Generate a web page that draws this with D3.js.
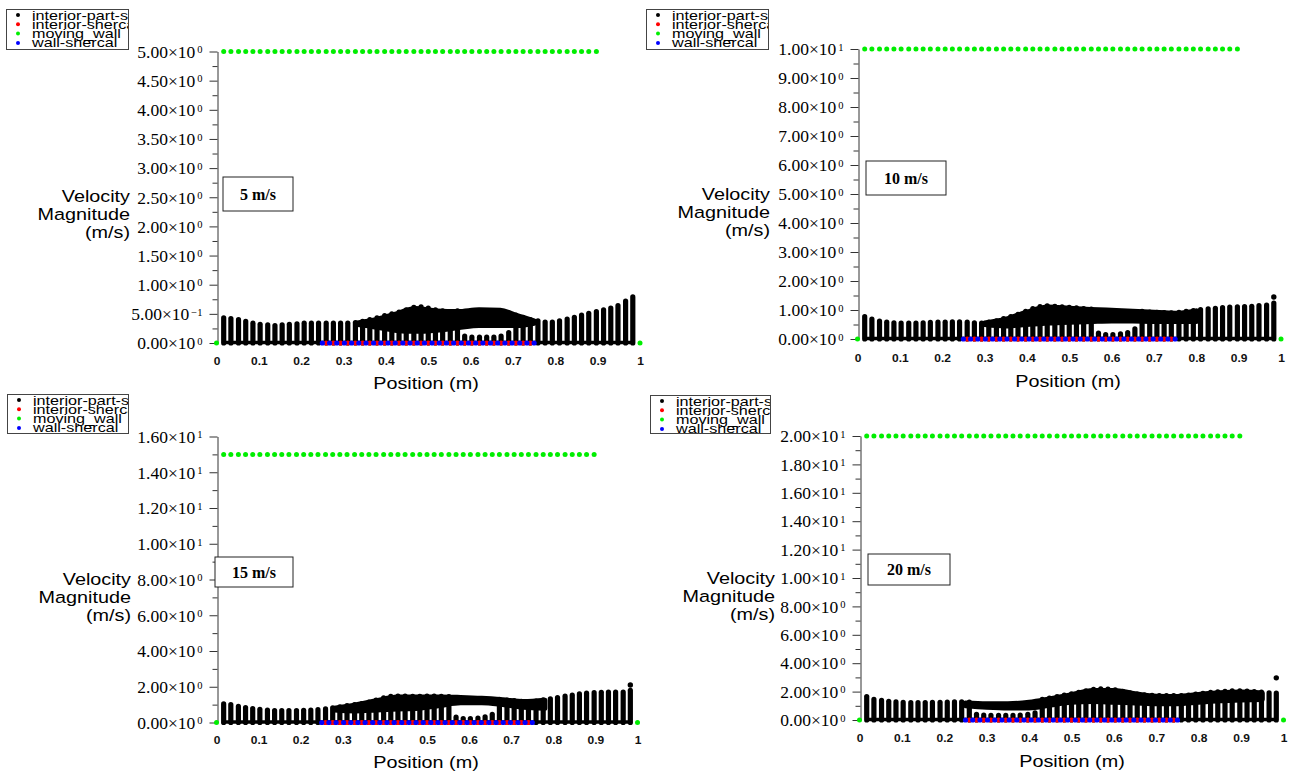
<!DOCTYPE html>
<html>
<head>
<meta charset="utf-8">
<script src="https://cdn.jsdelivr.net/npm/d3@7"></script>
<style>
  body { margin: 0; background: #ffffff; }
  svg { display: block; }
</style>
</head>
<body>
<svg id="chart" width="1295" height="775"></svg>
<script>
// ---- data -------------------------------------------------------------
// mesh node positions along the line (m)
const nodeX = [0.017,0.034,0.052,0.069,0.086,0.103,0.121,0.138,0.155,0.172,0.190,0.207,0.224,0.241,0.259,0.276,0.293,0.310,0.328,0.345,0.362,0.379,0.397,0.414,0.431,0.448,0.466,0.483,0.500,0.517,0.534,0.552,0.569,0.586,0.603,0.621,0.638,0.655,0.672,0.690,0.707,0.724,0.741,0.759,0.776,0.793,0.810,0.828,0.845,0.862,0.879,0.897,0.914,0.931,0.948,0.966,0.983];

// wall-shercal face centres (m)
const wallShercalX = [0.250,0.267,0.284,0.302,0.319,0.336,0.353,0.371,0.388,0.405,0.422,0.440,0.457,0.474,0.491,0.509,0.526,0.543,0.560,0.578,0.595,0.612,0.629,0.647,0.664,0.681,0.698,0.716,0.733,0.750];
// interior-shercal nodes (m)
const interiorShercalX = [0.259,0.276,0.293,0.310,0.328,0.345,0.362,0.379,0.397,0.414,0.431,0.448,0.466,0.483,0.500,0.517,0.534,0.552,0.569,0.586,0.603,0.621,0.638,0.655,0.672,0.690,0.707,0.724,0.741];
// moving_wall nodes (m)
const movingWallX = [0.017,0.034,0.052,0.069,0.086,0.103,0.121,0.138,0.155,0.172,0.190,0.207,0.224,0.241,0.259,0.276,0.293,0.310,0.328,0.345,0.362,0.379,0.397,0.414,0.431,0.448,0.466,0.483,0.500,0.517,0.534,0.552,0.569,0.586,0.603,0.621,0.638,0.655,0.672,0.690,0.707,0.724,0.741,0.759,0.776,0.793,0.810,0.828,0.845,0.862,0.879,0.897];
// moving_wall end nodes at rest
const movingWallEndsX = [0, 1];

const seriesNames = ["interior-part-shercal", "interior-shercal", "moving_wall", "wall-shercal"];
const seriesColors = ["#000000", "#ff0000", "#00ee00", "#0000ff"];

const caseLabels = ["5 m/s", "10 m/s", "15 m/s", "20 m/s"];
const wallSpeed = [5, 10, 15, 20];

const xTicks = [0, 0.1, 0.2, 0.3, 0.4, 0.5, 0.6, 0.7, 0.8, 0.9, 1];
const xTickLabels = ["0", "0.1", "0.2", "0.3", "0.4", "0.5", "0.6", "0.7", "0.8", "0.9", "1"];

const yTicks5 = [0, 0.5, 1, 1.5, 2, 2.5, 3, 3.5, 4, 4.5, 5];
const yTickLabels5 = [["0.00","0"],["5.00","\u22121"],["1.00","0"],["1.50","0"],["2.00","0"],["2.50","0"],["3.00","0"],["3.50","0"],["4.00","0"],["4.50","0"],["5.00","0"]];
const yTicks10 = [0, 1, 2, 3, 4, 5, 6, 7, 8, 9, 10];
const yTickLabels10 = [["0.00","0"],["1.00","0"],["2.00","0"],["3.00","0"],["4.00","0"],["5.00","0"],["6.00","0"],["7.00","0"],["8.00","0"],["9.00","0"],["1.00","1"]];
const yTicks15 = [0, 2, 4, 6, 8, 10, 12, 14, 16];
const yTickLabels15 = [["0.00","0"],["2.00","0"],["4.00","0"],["6.00","0"],["8.00","0"],["1.00","1"],["1.20","1"],["1.40","1"],["1.60","1"]];
const yTicks20 = [0, 2, 4, 6, 8, 10, 12, 14, 16, 18, 20];
const yTickLabels20 = [["0.00","0"],["2.00","0"],["4.00","0"],["6.00","0"],["8.00","0"],["1.00","1"],["1.20","1"],["1.40","1"],["1.60","1"],["1.80","1"],["2.00","1"]];

// interior-part-shercal: velocity spread at each node column (m/s, top of column)
const colTop5  = [0.43,0.42,0.40,0.37,0.34,0.32,0.31,0.30,0.31,0.32,0.33,0.34,0.34,0.34,0.34,0.34,0.34,0.34,0.35,0.37,0.40,0.43,0.47,0.50,0.53,0.57,0.61,0.62,0.60,0.57,0.55,0.54,0.55,0.12,0.10,0.10,0.10,0.10,0.12,0.18,0.48,0.44,0.40,0.38,0.36,0.36,0.38,0.41,0.44,0.48,0.51,0.54,0.57,0.60,0.64,0.72,0.79];
const colTop10 = [0.77,0.69,0.62,0.58,0.56,0.55,0.55,0.55,0.56,0.57,0.58,0.58,0.59,0.59,0.58,0.56,0.55,0.58,0.63,0.70,0.77,0.85,0.95,1.05,1.12,1.14,1.13,1.11,1.09,1.07,1.05,1.03,0.20,0.15,0.15,0.18,0.22,0.35,0.95,0.93,0.92,0.91,0.90,0.92,0.95,0.98,1.01,1.04,1.06,1.08,1.10,1.11,1.12,1.13,1.15,1.17,1.24];
const colTop15 = [1.04,1.00,0.90,0.84,0.78,0.74,0.70,0.67,0.66,0.66,0.67,0.68,0.70,0.72,0.76,0.82,0.88,0.94,1.00,1.06,1.14,1.25,1.38,1.46,1.47,1.47,1.46,1.46,1.47,1.47,1.46,1.45,0.30,0.22,0.22,0.25,0.32,0.45,1.30,1.26,1.22,1.19,1.17,1.20,1.27,1.33,1.40,1.47,1.53,1.60,1.64,1.67,1.69,1.70,1.70,1.70,1.80];
const colTop20 = [1.65,1.45,1.38,1.32,1.27,1.24,1.22,1.22,1.23,1.24,1.25,1.26,1.27,1.27,1.26,0.40,0.35,0.32,0.32,0.32,0.32,0.35,0.40,0.50,1.45,1.55,1.65,1.75,1.85,1.95,2.05,2.15,2.20,2.18,2.12,2.02,1.92,1.83,1.77,1.74,1.72,1.71,1.71,1.72,1.76,1.82,1.88,1.94,1.98,2.02,2.05,2.06,2.04,2.00,1.96,1.92,1.90];

// interior-part-shercal: dense band of overlapping points (m, m/s)
const band5X  = [0.33,0.37,0.42,0.47,0.52,0.57,0.62,0.67,0.71,0.75];
const band5Hi = [0.34,0.39,0.49,0.59,0.55,0.54,0.57,0.56,0.47,0.38];
const band5Lo = [0.32,0.28,0.22,0.20,0.22,0.26,0.30,0.30,0.30,0.34];
const band10X  = [0.30,0.35,0.40,0.45,0.50,0.55,0.60,0.65,0.70,0.75,0.80];
const band10Hi = [0.55,0.68,0.93,1.10,1.06,1.02,0.99,0.96,0.92,0.89,0.97];
const band10Lo = [0.50,0.45,0.50,0.55,0.58,0.60,0.62,0.62,0.60,0.60,0.60];
const band15X  = [0.28,0.33,0.38,0.43,0.48,0.53,0.58,0.63,0.68,0.73,0.78];
const band15Hi = [0.80,0.98,1.22,1.42,1.43,1.43,1.40,1.35,1.27,1.17,1.25];
const band15Lo = [0.70,0.65,0.70,0.75,0.80,0.95,1.10,1.10,1.00,0.85,0.80];
const band20X  = [0.25,0.30,0.35,0.40,0.45,0.50,0.55,0.60,0.65,0.70,0.75,0.80,0.85,0.90,0.95];
const band20Hi = [1.20,1.15,1.15,1.25,1.50,1.78,2.08,2.08,1.85,1.68,1.66,1.80,1.92,1.97,1.90];
const band20Lo = [1.00,0.90,0.85,0.85,1.05,1.25,1.30,1.25,1.20,1.15,1.15,1.25,1.35,1.40,1.45];

// isolated high-velocity points near the outlet (m, m/s)
const strayX = [0.983, 0.983, 0.983];
const stray10 = [1.45];
const stray15 = [2.10];
const stray20 = [2.97];

// ---- layout -----------------------------------------------------------
const panels = [
  { xr: [216.5, 640], yr: [343, 51.5], yMax: 5, ticks: yTicks5, labels: yTickLabels5, top: colTop5,
    bx: band5X, bhi: band5Hi, blo: band5Lo, stray: [],
    legend: [6, 9, 122, 40], box: [223, 177, 70, 34], yt: [130, 196], xt: [426, 389], xtick: 365 },
  { xr: [857.5, 1281], yr: [339, 49], yMax: 10, ticks: yTicks10, labels: yTickLabels10, top: colTop10,
    bx: band10X, bhi: band10Hi, blo: band10Lo, stray: stray10,
    legend: [646, 9, 122, 40], box: [866, 161, 80, 34], yt: [770, 194], xt: [1068, 387], xtick: 362 },
  { xr: [216.5, 637.5], yr: [722.5, 436.5], yMax: 16, ticks: yTicks15, labels: yTickLabels15, top: colTop15,
    bx: band15X, bhi: band15Hi, blo: band15Lo, stray: stray15,
    legend: [7, 394, 121, 39], box: [215, 557, 78, 30], yt: [131, 579], xt: [426, 768], xtick: 744 },
  { xr: [859.5, 1283.5], yr: [720, 436], yMax: 20, ticks: yTicks20, labels: yTickLabels20, top: colTop20,
    bx: band20X, bhi: band20Hi, blo: band20Lo, stray: stray20,
    legend: [650, 395, 120, 38], box: [868, 554, 82, 31], yt: [775, 578], xt: [1072, 767], xtick: 742 }
];

const SANS = "'Liberation Sans', Arial, Helvetica, sans-serif";
const SERIF = "'Liberation Serif', 'Times New Roman', serif";
const STRETCH = 1.2;   // sans labels are drawn slightly widened

const svg = d3.select("#chart");

function sansText(g, x, y, str, size, anchor, weight, stretch) {
  return g.append("text")
    .attr("transform", `translate(${x},${y}) scale(${stretch || STRETCH},1)`)
    .attr("text-anchor", anchor || "start")
    .attr("font-family", SANS)
    .attr("font-size", size)
    .attr("font-weight", weight || "normal")
    .attr("fill", "#000")
    .text(str);
}

panels.forEach((p, k) => {
  const g = svg.append("g").attr("class", "panel");
  const x = d3.scaleLinear().domain([0, 1]).range(p.xr);
  const y = d3.scaleLinear().domain([0, p.yMax]).range(p.yr);
  const axisX = x(0) + 1;

  // y axis with major ticks and exponent-style labels
  const yAxis = d3.axisLeft(y).tickValues(p.ticks).tickSize(8).tickSizeOuter(0).tickPadding(7)
    .tickFormat((d, i) => p.labels[i][0]);
  const ya = g.append("g").attr("transform", `translate(${axisX},0)`).call(yAxis);
  ya.select(".domain").attr("stroke", "#333").attr("stroke-width", 1);
  ya.selectAll(".tick line").attr("stroke", "#333");
  ya.selectAll(".tick text").each(function (d, i) {
    const t = d3.select(this);
    const lab = p.labels[i];
    t.text(null)
      .attr("font-family", SERIF).attr("font-size", 17.5).attr("fill", "#000")
      .attr("dy", "0.33em");
    t.append("tspan").text(lab[0] + "\u00d710");
    t.append("tspan").attr("dy", -4.5).attr("dx", 2).attr("font-size", 10.5).text(lab[1]);
  });
  // minor ticks halfway between majors
  const minor = p.ticks.slice(1).map((v, i) => (v + p.ticks[i]) / 2);
  g.append("g").attr("transform", `translate(${axisX},0)`)
    .call(d3.axisLeft(y).tickValues(minor).tickSize(5).tickFormat(""))
    .call(s => s.select(".domain").remove())
    .selectAll(".tick line").attr("stroke", "#333");

  // x axis: labels only
  const xa = g.append("g").attr("transform", `translate(0,${p.xtick})`)
    .call(d3.axisBottom(x).tickValues(xTicks).tickSize(0).tickFormat((d, i) => xTickLabels[i]));
  xa.select(".domain").remove();
  xa.selectAll(".tick text")
    .attr("y", 0).attr("dy", 0)
    .attr("font-family", SANS).attr("font-size", 10).attr("font-weight", "bold").attr("fill", "#111")
    .attr("transform", `scale(${STRETCH},1)`);

  // interior-part-shercal: floor row between columns
  g.append("line")
    .attr("x1", x(nodeX[0])).attr("x2", x(nodeX[nodeX.length - 1]))
    .attr("y1", y(0) - 0.5).attr("y2", y(0) - 0.5)
    .attr("stroke", seriesColors[0]).attr("stroke-width", 3.5).attr("stroke-linecap", "round");

  // interior-part-shercal columns
  g.append("g").selectAll("line").data(p.top).join("line")
    .attr("x1", (d, i) => x(nodeX[i])).attr("x2", (d, i) => x(nodeX[i]))
    .attr("y1", y(0)).attr("y2", d => y(d))
    .attr("stroke", seriesColors[0]).attr("stroke-width", 5.2).attr("stroke-linecap", "round");

  // dense band
  const bandData = p.bx.map((v, i) => ({ x: v, hi: p.bhi[i], lo: p.blo[i] }));
  g.append("path").datum(bandData)
    .attr("d", d3.area().x(d => x(d.x)).y0(d => y(d.lo)).y1(d => y(d.hi)).curve(d3.curveMonotoneX))
    .attr("fill", seriesColors[0]).attr("stroke", seriesColors[0]).attr("stroke-width", 5).attr("stroke-linejoin", "round");

  // isolated points
  g.append("g").selectAll("circle").data(p.stray).join("circle")
    .attr("cx", (d, i) => x(strayX[i])).attr("cy", d => y(d)).attr("r", 2.7).attr("fill", seriesColors[0]);

  // interior-shercal and wall-shercal on the floor
  g.append("g").selectAll("circle").data(interiorShercalX).join("circle")
    .attr("cx", d => x(d)).attr("cy", y(0)).attr("r", 2.6).attr("fill", seriesColors[1]);
  g.append("g").selectAll("circle").data(wallShercalX).join("circle")
    .attr("cx", d => x(d)).attr("cy", y(0)).attr("r", 2.6).attr("fill", seriesColors[3]);

  // moving_wall
  g.append("g").selectAll("circle").data(movingWallX).join("circle")
    .attr("cx", d => x(d)).attr("cy", y(wallSpeed[k])).attr("r", 2.5).attr("fill", seriesColors[2]);
  g.append("g").selectAll("circle").data(movingWallEndsX).join("circle")
    .attr("cx", d => x(d)).attr("cy", y(0)).attr("r", 2.5).attr("fill", seriesColors[2]);

  // axis titles
  const tt = g.append("g");
  ["Velocity", "Magnitude", "(m/s)"].forEach((s, i) => {
    sansText(tt, p.yt[0], p.yt[1] + 6 + i * 18, s, 16.5, "end");
  });
  sansText(tt, p.xt[0], p.xt[1], "Position (m)", 16.5, "middle");

  // case label box
  const [bxl, byt, bw, bh] = p.box;
  g.append("rect").attr("x", bxl).attr("y", byt).attr("width", bw).attr("height", bh)
    .attr("fill", "#fff").attr("stroke", "#222").attr("stroke-width", 1);
  g.append("text").attr("x", bxl + bw / 2).attr("y", byt + bh / 2 + 5.5)
    .attr("text-anchor", "middle").attr("font-family", SERIF).attr("font-size", 16).attr("font-weight", "bold")
    .text(caseLabels[k]);

  // legend
  const [lx, ly, lw, lh] = p.legend;
  const clipId = "legclip" + k;
  g.append("clipPath").attr("id", clipId).append("rect")
    .attr("x", lx).attr("y", ly).attr("width", lw).attr("height", lh);
  g.append("rect").attr("x", lx + 0.5).attr("y", ly + 0.5).attr("width", lw).attr("height", lh)
    .attr("fill", "#fff").attr("stroke", "#444").attr("stroke-width", 1);
  const lg = g.append("g").attr("clip-path", `url(#${clipId})`);
  seriesNames.forEach((name, i) => {
    const cy = ly + 6 + i * 9.3;
    lg.append("circle").attr("cx", lx + 12).attr("cy", cy).attr("r", 2).attr("fill", seriesColors[i]);
    sansText(lg, lx + 26, cy + 4.5, name, 13, "start", "normal", 1.245);
  });
});
</script>
</body>
</html>
